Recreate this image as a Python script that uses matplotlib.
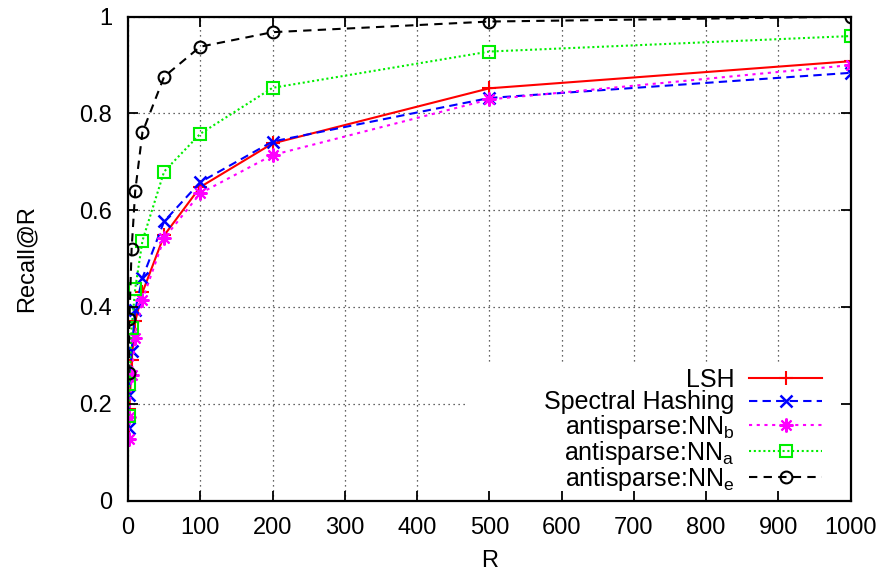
import matplotlib
matplotlib.use("Agg")
import matplotlib.pyplot as plt
from matplotlib.patches import Rectangle

plt.rcParams['font.family'] = ['Liberation Sans', 'DejaVu Sans']
plt.rcParams['mathtext.fontset'] = 'custom'
plt.rcParams['mathtext.rm'] = 'Liberation Sans'
plt.rcParams['mathtext.it'] = 'Liberation Sans:italic'
plt.rcParams['mathtext.bf'] = 'Liberation Sans:bold'

# ---------------- data ----------------
R = [1, 2, 5, 10, 20, 50, 100, 200, 500, 1000]
lsh = [0.125, 0.19, 0.29, 0.37, 0.43, 0.548, 0.648, 0.738, 0.852, 0.908]
spectral = [0.15, 0.218, 0.31, 0.394, 0.46, 0.577, 0.658, 0.742, 0.832, 0.884]
nn_b = [0.128, 0.173, 0.26, 0.335, 0.415, 0.542, 0.635, 0.714, 0.829, 0.900]
nn_a = [0.175, 0.24, 0.356, 0.438, 0.537, 0.680, 0.758, 0.853, 0.928, 0.960]
nn_e = [0.264, 0.375, 0.52, 0.64, 0.761, 0.876, 0.938, 0.968, 0.990, 1.000]

labels = ["LSH", "Spectral Hashing", r"antisparse:NN$_\mathrm{b}$",
          r"antisparse:NN$_\mathrm{a}$", r"antisparse:NN$_\mathrm{e}$"]
xticks = [0, 100, 200, 300, 400, 500, 600, 700, 800, 900, 1000]
yticks = [0, 0.2, 0.4, 0.6, 0.8, 1]
yticklabels = ["0", "0.2", "0.4", "0.6", "0.8", "1"]

FS = 17
LFS = 18

fig = plt.figure(figsize=(8.84, 5.73), dpi=100)
pos = [128 / 884, (573 - 500.5) / 573, (850.7 - 128) / 884, (500.5 - 16.7) / 573]
ax = fig.add_axes(pos)
ax.set_xlim(0, 1000)
ax.set_ylim(0, 1)
ax.set_axisbelow(True)
ax.grid(True, color='#333333', linestyle=(0, (1, 3)), linewidth=0.9)
ax.set_xticks(xticks)
ax.set_yticks(yticks)
ax.set_yticklabels(yticklabels)
ax.tick_params(length=0, labelsize=FS)
ax.tick_params(axis='x', pad=12)
ax.tick_params(axis='y', pad=11.5)
for s in ax.spines.values():
    s.set_visible(False)

# opaque key area (hides grid behind the key)
ax.add_patch(Rectangle((0.471, 0.0), 0.529, 0.286, transform=ax.transAxes,
                       facecolor='white', edgecolor='none', zorder=0.7))

lw = 1.5
ax.plot(R, lsh, color='#ff0000', lw=lw, linestyle='-', marker='+',
        markersize=10, markeredgewidth=1.5, label=labels[0])
ax.plot(R, spectral, color='#0000ff', lw=lw, linestyle=(0, (4, 2.5)), marker='x',
        markersize=8, markeredgewidth=1.8, label=labels[1])
ax.plot(R, nn_b, color='#ff00ff', lw=lw, linestyle=(0, (1.5, 2.2)), marker=(8, 2, 0),
        markersize=10, markeredgewidth=1.5, label=labels[2])
ax.plot(R, nn_a, color='#00ee00', lw=lw, linestyle=(0, (1, 1.3)), marker='s',
        markersize=8.5, markeredgewidth=1.5, markerfacecolor='none', label=labels[3])
ax.plot(R, nn_e, color='black', lw=lw, linestyle=(0, (4, 3)), marker='o',
        markersize=8.5, markeredgewidth=1.5, markerfacecolor='none', label=labels[4])

ax.set_xlabel("R", fontsize=FS, labelpad=8)
ax.set_ylabel("Recall@R", fontsize=FS, labelpad=30)

leg = ax.legend(loc='lower right', bbox_to_anchor=(0.96, 0.015), frameon=False,
                markerfirst=False, fontsize=LFS, handlelength=2.9, handletextpad=0.6,
                labelspacing=-0.07, borderpad=0, borderaxespad=0)

# overlay axes for border + inward mirrored ticks on top
ax2 = fig.add_axes(pos, sharex=ax, sharey=ax, facecolor='none')
ax2.set_zorder(ax.get_zorder() + 1)
ax2.tick_params(direction='in', length=7, width=1.3, top=True, right=True,
                labelbottom=False, labelleft=False)
for s in ax2.spines.values():
    s.set_linewidth(1.6)

fig.savefig("out.png", dpi=100)
